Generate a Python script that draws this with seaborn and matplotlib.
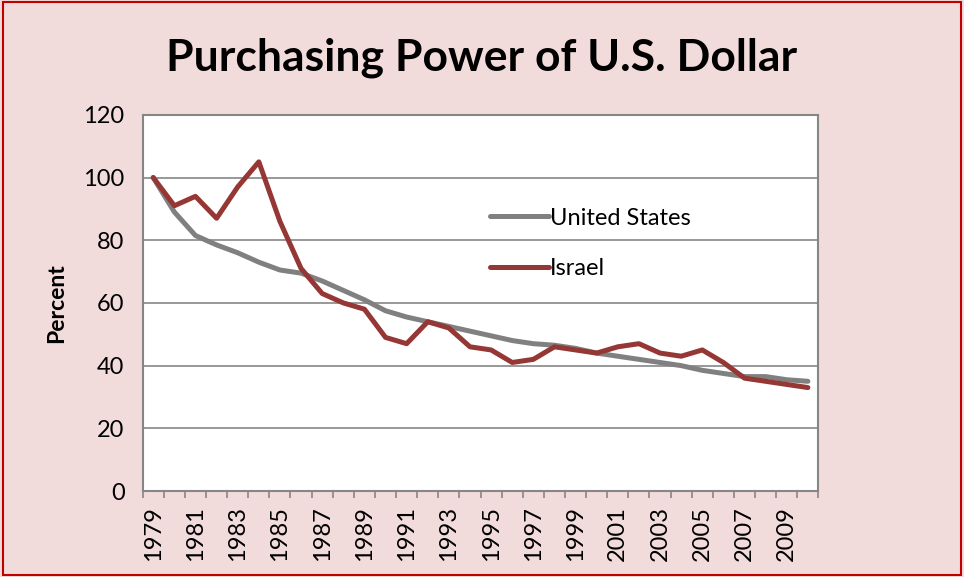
import numpy as np
import pandas as pd
import seaborn as sns
import matplotlib.pyplot as plt
from matplotlib.patches import Rectangle

# values (index, 1979 = 100)
years = list(range(1979, 2011))
us_values = [100, 89, 81.5, 78.5, 76, 73, 70.5, 69.5, 67, 64, 61, 57.5,
             55.5, 54, 52.5, 51, 49.5, 48, 47, 46.5, 45.5, 44, 43, 42,
             41, 40, 38.5, 37.5, 36.5, 36.5, 35.5, 35]
israel_values = [100, 91, 94, 87, 97, 105, 86, 71, 63, 60, 58, 49,
                 47, 54, 52, 46, 45, 41, 42, 46, 45, 44, 46, 47,
                 44, 43, 45, 41, 36, 35, 34, 33]
series_names = ['United States', 'Israel']
y_ticks = [0, 20, 40, 60, 80, 100, 120]

df = pd.DataFrame({
    'pos': list(range(len(years))) * 2,
    'value': us_values + israel_values,
    'country': [series_names[0]] * len(years) + [series_names[1]] * len(years),
})

sns.set_style('white')
plt.rcParams['font.family'] = ['Lato', 'DejaVu Sans']
plt.rcParams['text.color'] = 'black'
plt.rcParams['xtick.color'] = 'black'
plt.rcParams['ytick.color'] = 'black'
plt.rcParams['axes.labelcolor'] = 'black'

bg = '#F2DCDB'
fig = plt.figure(figsize=(9.64, 5.77), dpi=100, facecolor=bg)
fig.patches.append(Rectangle((0.003, 0.003), 0.994, 0.994, transform=fig.transFigure,
                             fill=False, edgecolor='#C00000', linewidth=1.5))
ax = fig.add_axes([0.148, 0.149, 0.701, 0.652])
ax.set_facecolor('white')

sns.lineplot(data=df, x='pos', y='value', hue='country',
             palette={'United States': '#808080', 'Israel': '#953735'},
             linewidth=3.6, ax=ax, legend=True)

ax.set_xlim(-0.5, len(years) - 0.5)
ax.set_ylim(0, 120)
ax.set_yticks(y_ticks)
ax.yaxis.grid(True, color='#868686', linewidth=1.2)
ax.set_axisbelow(True)

# labels every other year at category centers, tick marks at boundaries
label_pos = list(range(0, len(years), 2))
ax.set_xticks(label_pos)
ax.set_xticklabels([str(years[i]) for i in label_pos], rotation=90)
ax.set_xticks(np.arange(-0.5, len(years) + 0.5, 1), minor=True)
ax.tick_params(axis='x', which='major', length=0, pad=11, labelsize=17)
ax.tick_params(axis='x', which='minor', length=5, width=1.2, color='#868686', direction='out')
ax.tick_params(axis='y', length=5, width=1.2, color='#868686', labelcolor='black',
               direction='out', labelsize=17, pad=8)
ax.tick_params(axis='x', bottom=True, which='both', labelcolor='black')

for s in ax.spines.values():
    s.set_color('#868686')
    s.set_linewidth(1.5)

ax.set_xlabel('')
ax.set_ylabel('Percent', fontsize=16.5, fontweight='bold', labelpad=12)
fig.suptitle('Purchasing Power of U.S. Dollar', fontsize=32, fontweight='bold', y=0.935)

leg = ax.legend(loc='upper left', bbox_to_anchor=(0.482, 0.81), frameon=False,
                fontsize=17, handlelength=2.5, handletextpad=0.05, labelspacing=1.25)
for line in leg.get_lines():
    line.set_linewidth(3.6)

fig.savefig('out.png', dpi=100, facecolor=bg)
